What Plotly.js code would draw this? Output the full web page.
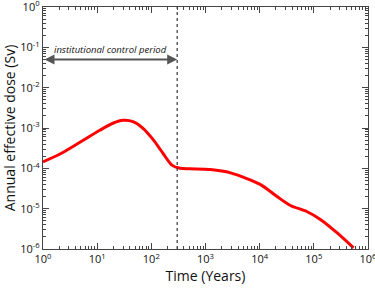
<!DOCTYPE html>
<html><head><meta charset="utf-8">
<script src="https://cdn.plot.ly/plotly-3.0.1.min.js"></script>
<style>html,body{margin:0;padding:0;background:#fff}#chart{width:375px;height:290px}</style>
</head><body><div id="chart"></div>
<script>
// Time (years) and annual effective dose (Sv)
const timeYears = [1, 2.1, 4.9, 11.2, 20, 30, 47, 71, 110, 166, 240, 340, 510, 1230, 2900, 10200, 20900, 37000, 74000, 132000, 270000, 540000];
const doseSv    = [1.45e-4, 2.3e-4, 4.5e-4, 8.8e-4, 1.33e-3, 1.55e-3, 1.42e-3, 9.7e-4, 5e-4, 2.3e-4, 1.2e-4, 1.0e-4, 9.7e-5, 9.3e-5, 7.7e-5, 4e-5, 2e-5, 1.2e-5, 8.5e-6, 5.4e-6, 2.5e-6, 1.07e-6];
const controlEnd = 300;          // end of institutional control period (years)
const controlStart = 1;
const arrowDose = 0.05;
const controlLabel = 'institutional control period';
const xTickVals = [1, 10, 100, 1000, 10000, 100000, 1000000];
const xTickText = ['10<sup>0</sup>','10<sup>1</sup>','10<sup>2</sup>','10<sup>3</sup>','10<sup>4</sup>','10<sup>5</sup>','10<sup>6</sup>'];
const yTickVals = [1e-6, 1e-5, 1e-4, 1e-3, 1e-2, 1e-1, 1];
const yTickText = ['10<sup>-6</sup>','10<sup>-5</sup>','10<sup>-4</sup>','10<sup>-3</sup>','10<sup>-2</sup>','10<sup>-1</sup>','10<sup>0</sup>'];
const xTitle = 'Time (Years)';
const yTitle = 'Annual effective dose (Sv)';

function minorVals(lo, hi) {
  const out = [];
  for (let e = lo; e < hi; e++) for (let m = 2; m <= 9; m++) out.push(m * Math.pow(10, e));
  return out;
}

const font = 'Open Sans, Liberation Sans, sans-serif';
const traces = [
  {x: timeYears, y: doseSv, mode: 'lines', line: {color: '#ff0000', width: 3, shape: 'spline', smoothing: 0.8}, hoverinfo: 'skip'},
  {x: [controlEnd, controlEnd], y: [1e-6, 1], mode: 'lines', line: {color: '#333', width: 1.2, dash: 'dot'}, hoverinfo: 'skip'}
];
const axisCommon = {
  type: 'log', showgrid: false, zeroline: false, showline: true, linecolor: '#444', linewidth: 1.2,
  mirror: 'ticks', ticks: 'inside', ticklen: 6, tickwidth: 1, tickcolor: '#444',
  tickmode: 'array', ticklabeloverflow: 'allow', tickfont: {family: font, size: 11, color: '#111'}
};
const layout = {
  width: 375, height: 290,
  margin: {l: 43, r: 7, t: 7, b: 41},
  showlegend: false,
  paper_bgcolor: '#fff', plot_bgcolor: '#fff',
  xaxis: Object.assign({}, axisCommon, {
    range: [0, 6], tickvals: xTickVals, ticktext: xTickText,
    minor: {tickmode: 'array', tickvals: minorVals(0, 6), ticks: 'inside', ticklen: 3, tickcolor: '#444'},
    title: {text: xTitle, font: {family: font, size: 14, color: '#111'}, standoff: 5}
  }),
  yaxis: Object.assign({}, axisCommon, {
    range: [-6, 0], tickvals: yTickVals, ticktext: yTickText,
    minor: {tickmode: 'array', tickvals: minorVals(-6, 0), ticks: 'inside', ticklen: 3, tickcolor: '#444'},
    title: {text: yTitle, font: {family: font, size: 14, color: '#111'}, standoff: 3}
  }),
  annotations: [
    {x: Math.log10(controlEnd), y: Math.log10(arrowDose), ax: Math.log10(controlStart), ay: Math.log10(arrowDose),
     xref: 'x', yref: 'y', axref: 'x', ayref: 'y', text: '', showarrow: true,
     arrowhead: 2, startarrowhead: 2, arrowside: 'end+start', arrowsize: 1, arrowwidth: 2, arrowcolor: '#555', standoff: 0, startstandoff: 0},
    {x: (Math.log10(controlStart) + Math.log10(controlEnd)) / 2, y: Math.log10(arrowDose), xref: 'x', yref: 'y',
     text: '<i>' + controlLabel + '</i>', showarrow: false, yanchor: 'bottom', yshift: 1,
     font: {family: font, size: 9.5, color: '#111'}}
  ]
};
Plotly.newPlot('chart', traces, layout, {staticPlot: true, displayModeBar: false});
</script></body></html>
